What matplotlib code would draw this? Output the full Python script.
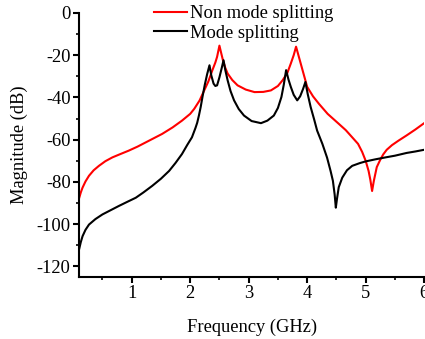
import matplotlib
matplotlib.use("Agg")
import matplotlib.pyplot as plt
from matplotlib.ticker import MultipleLocator

# values
freq_non = [0.1, 0.13, 0.16, 0.21, 0.27, 0.35, 0.44, 0.55, 0.67, 0.8, 0.95,
            1.1, 1.24, 1.38, 1.52, 1.7, 1.86, 2.0, 2.07, 2.16, 2.24, 2.31,
            2.38, 2.43, 2.46, 2.5, 2.53, 2.56, 2.6, 2.64, 2.72, 2.81, 2.95,
            3.1, 3.25, 3.38, 3.5, 3.58, 3.66, 3.72, 3.77, 3.81, 3.85, 3.89,
            3.95, 4.0, 4.1, 4.2, 4.35, 4.54, 4.66, 4.77, 4.87, 4.94, 5.0,
            5.05, 5.08, 5.11, 5.14, 5.19, 5.25, 5.3, 5.36, 5.45, 5.56, 5.7, 5.85, 6.0]
mag_non = [-87.8, -85, -82.7, -79.8, -77.1, -74.5, -72.4, -70.2, -68.4, -66.9, -65.2,
           -63.3, -61.3, -59.3, -57.3, -54.2, -51, -47.8, -45.4, -41.5, -36.7, -32.5,
           -27.1, -23.5, -20.8, -15.5, -19, -22.4, -26, -28.7, -31.8, -34.3, -36.3,
           -37.5, -37.4, -36.7, -34.6, -31.9, -28.5, -24, -20, -16, -20, -24,
           -30, -35, -39.5, -43, -47.8, -52.5, -55.5, -58.9, -62, -65.8, -70,
           -74.8, -79, -84.3, -79.5, -73, -69.5, -67, -64.8, -62.6, -60.5, -58, -55.2, -52.2]

freq_split = [0.1, 0.13, 0.16, 0.21, 0.27, 0.38, 0.5, 0.64, 0.78, 0.92, 1.07,
              1.2, 1.35, 1.5, 1.64, 1.75, 1.86, 1.95, 2.03, 2.09, 2.12, 2.15, 2.18,
              2.21, 2.25, 2.29, 2.33, 2.36, 2.4, 2.43, 2.46, 2.5, 2.54, 2.57,
              2.6, 2.64, 2.69, 2.75, 2.83, 2.92, 3.05, 3.21, 3.32, 3.43, 3.5,
              3.56, 3.6, 3.64, 3.68, 3.72, 3.77, 3.83, 3.88, 3.93, 3.97, 4.01,
              4.06, 4.12, 4.17, 4.26, 4.34, 4.4, 4.44, 4.47, 4.49, 4.51, 4.54,
              4.6, 4.68, 4.77, 4.9, 5.0, 5.17, 5.34, 5.5, 5.7, 5.85, 6.0]
mag_split = [-112, -108.5, -105.7, -102.7, -100.2, -97.6, -95.4, -93.4, -91.4, -89.5, -87.5,
             -85, -81.9, -78.5, -74.8, -71, -66.8, -62.5, -58.9, -54.5, -52, -48.5, -44.5,
             -39.8, -34, -29, -24.8, -29.5, -33.5, -34.6, -34.3, -30.5, -26, -22.4,
             -27, -31.9, -37, -41.4, -45.5, -48.6, -51.2, -52.2, -51, -48.6, -45,
             -39.8, -34, -27.1, -31.5, -35, -38.8, -41.4, -39.5, -36, -32.7, -38.5,
             -44.6, -50.5, -55.7, -62, -68.5, -74.8, -79.5, -86, -92.2, -88, -82.5,
             -78, -74.5, -72.4, -71.1, -70.3, -69.3, -68.4, -67.6, -66.3, -65.6, -64.8]

plt.rcParams['font.family'] = ['Liberation Serif', 'DejaVu Serif']
plt.rcParams['font.size'] = 13.3
plt.rcParams['axes.unicode_minus'] = False

fig = plt.figure(figsize=(4.25, 3.39), dpi=100)
ax = fig.add_axes([0.186, 0.183, 0.812, 0.779])

ax.plot(freq_non, mag_non, color='red', lw=1.5, label='Non mode splitting')
ax.plot(freq_split, mag_split, color='black', lw=1.5, label='Mode splitting')

ax.set_xlim(0.1, 6)
ax.set_ylim(-125, 0)
ax.xaxis.set_major_locator(MultipleLocator(1))
ax.xaxis.set_minor_locator(MultipleLocator(0.5))
ax.yaxis.set_major_locator(MultipleLocator(20))
ax.yaxis.set_minor_locator(MultipleLocator(10))
ax.spines['top'].set_visible(False)
ax.spines['right'].set_visible(False)
ax.spines['left'].set_linewidth(1.5)
ax.spines['bottom'].set_linewidth(1.5)
ax.tick_params(which='major', direction='out', length=4, width=1.5, pad=2)
ax.tick_params(which='minor', direction='out', length=2.5, width=1.2)

ax.set_xlabel('Frequency (GHz)', labelpad=12)
ax.set_ylabel('Magnitude (dB)', labelpad=6)

fig.legend(loc='upper left', bbox_to_anchor=(154 / 425, 0.985), frameon=False,
           borderpad=0, borderaxespad=0, handlelength=1.8, handletextpad=0.15,
           labelspacing=0.15)

fig.savefig('out.png', dpi=100)
